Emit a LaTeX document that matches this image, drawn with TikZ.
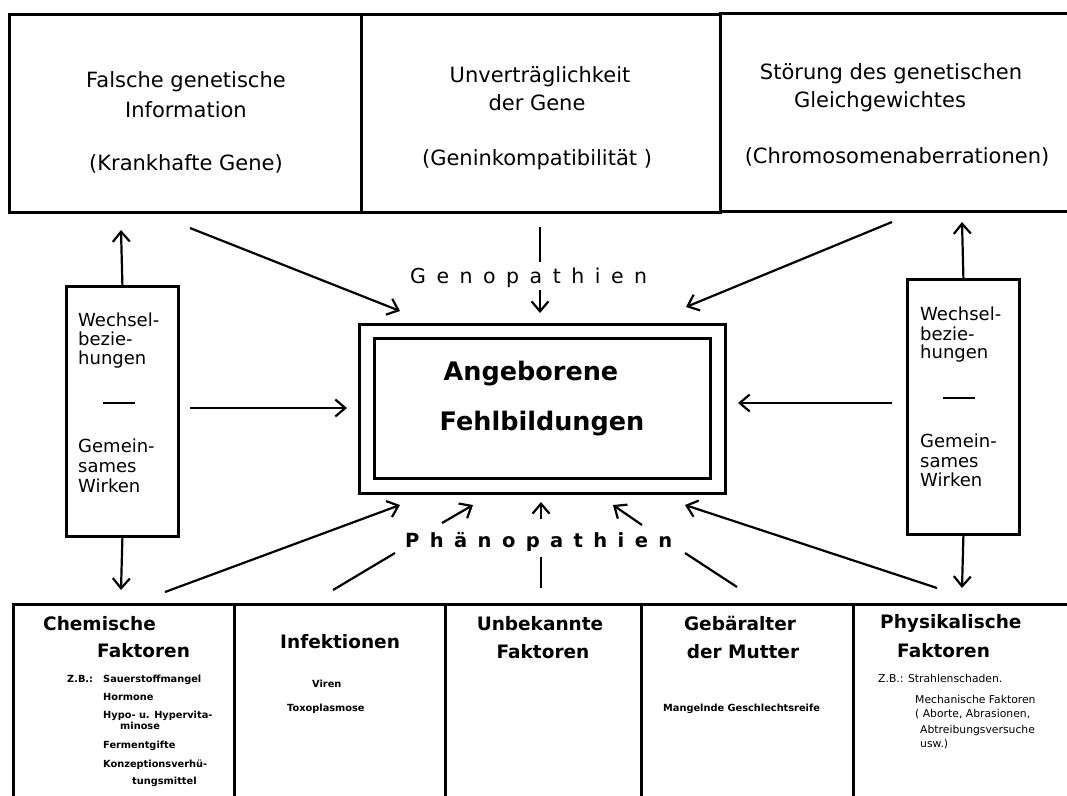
\documentclass[tikz,border=0pt]{standalone}
\usepackage{fontspec}
\setmainfont{DejaVu Sans}
\usetikzlibrary{arrows.meta}
\newcommand\lsp{\hskip 10.5pt}
\newcommand\lspb{\hskip 10.4pt}
\tikzset{
 box/.style={draw, line width=2.8pt, inner sep=0pt, anchor=north west},
 arr/.style={line width=2.2pt, -{Straight Barb[length=10pt,width=17pt]}},
 ln/.style={line width=2.2pt},
 toptxt/.style={anchor=base, inner sep=0pt, font=\fontsize{21}{24}\selectfont},
 sidetxt/.style={anchor=base west, inner sep=0pt, font=\fontsize{18}{20}\selectfont},
 ctxt/.style={anchor=base, inner sep=0pt, font=\fontsize{25.5}{30}\selectfont\bfseries},
 btitle/.style={anchor=base west, inner sep=0pt, font=\fontsize{18.5}{22}\selectfont\bfseries},
 btitlec/.style={anchor=base, inner sep=0pt, font=\fontsize{18.5}{22}\selectfont\bfseries},
 bsmall/.style={anchor=base west, inner sep=0pt, font=\fontsize{9.8}{11}\selectfont\bfseries},
 psmall/.style={anchor=base west, inner sep=0pt, font=\fontsize{10.8}{12}\selectfont},
 patho/.style={anchor=base west, inner sep=0pt, font=\fontsize{20.5}{24}\selectfont},
}
\begin{document}
\begin{tikzpicture}[x=1pt,y=-1pt]
\useasboundingbox (0,0) rectangle (1067,795);
\clip (0,0) rectangle (1067,795);
% top boxes
\node[box, minimum width=352pt, minimum height=198pt] (top1) at (8,13) {};
\node[box, minimum width=359pt, minimum height=198pt] (top2) at (360,13) {};
\node[box, minimum width=370pt, minimum height=198pt] (top3) at (719,12) {};
\node[toptxt] (t1a) at (186,87) {Falsche genetische};
\node[toptxt] (t1b) at (186,117) {Information};
\node[toptxt] (t1c) at (186,170) {(Krankhafte Gene)};
\node[toptxt] (t2a) at (540,82) {Unverträglichkeit};
\node[toptxt] (t2b) at (537,110) {der Gene};
\node[toptxt] (t2c) at (537,165) {(Geninkompatibilität )};
\node[toptxt] (t3a) at (891,79) {Störung des genetischen};
\node[toptxt] (t3b) at (880,107) {Gleichgewichtes};
\node[toptxt] (t3c) at (897,163) {(Chromosomenaberrationen)};
% centre double box
\node[box, minimum width=366pt, minimum height=169pt] (outer) at (358,323) {};
\node[box, minimum width=336pt, minimum height=140pt] (inner) at (373,337) {};
\node[ctxt] (c1) at (531,380) {Angeborene};
\node[ctxt] (c2) at (542,430) {Fehlbildungen};
% side boxes
\node[box, minimum width=112pt, minimum height=250pt] (lbox) at (65,285) {};
\node[sidetxt] (l1) at (78,326) {Wechsel-};
\node[sidetxt] (l2) at (78,345) {bezie-};
\node[sidetxt] (l3) at (78,364) {hungen};
\node[sidetxt] (l4) at (78,452) {Gemein-};
\node[sidetxt] (l5) at (78,472) {sames};
\node[sidetxt] (l6) at (78,492) {Wirken};
\coordinate (ld1) at (103,403); \coordinate (ld2) at (135,403);
\draw[ln] (ld1) -- (ld2);
\node[box, minimum width=112pt, minimum height=255pt] (rbox) at (906,278) {};
\node[sidetxt] (r1) at (920,320) {Wechsel-};
\node[sidetxt] (r2) at (920,340) {bezie-};
\node[sidetxt] (r3) at (920,358) {hungen};
\node[sidetxt] (r4) at (920,447) {Gemein-};
\node[sidetxt] (r5) at (920,467) {sames};
\node[sidetxt] (r6) at (920,486) {Wirken};
\coordinate (rd1) at (943,398); \coordinate (rd2) at (975,398);
\draw[ln] (rd1) -- (rd2);
% bottom boxes
\node[box, minimum width=221pt, minimum height=210pt] (bot1) at (12,603) {};
\node[box, minimum width=211pt, minimum height=210pt] (bot2) at (233,603) {};
\node[box, minimum width=196pt, minimum height=210pt] (bot3) at (444,603) {};
\node[box, minimum width=212pt, minimum height=210pt] (bot4) at (640,603) {};
\node[box, minimum width=240pt, minimum height=210pt] (bot5) at (852,603) {};
% bottom texts
\node[btitle] (b1a) at (43,630) {Chemische};
\node[btitle] (b1b) at (97,657) {Faktoren};
\node[bsmall] (b1z) at (67,682) {Z.B.:};
\node[bsmall] (b1c) at (103,682) {Sauerstoffmangel};
\node[bsmall] (b1d) at (103,700) {Hormone};
\node[bsmall] (b1e) at (103,718) {Hypo- u. Hypervita-};
\node[bsmall] (b1f) at (120,729) {minose};
\node[bsmall] (b1g) at (103,748) {Fermentgifte};
\node[bsmall] (b1h) at (103,767) {Konzeptionsverhü-};
\node[bsmall] (b1i) at (132,784) {tungsmittel};
\node[btitle] (b2a) at (280,648) {Infektionen};
\node[bsmall] (b2b) at (312,687) {Viren};
\node[bsmall] (b2c) at (287,711) {Toxoplasmose};
\node[btitlec] (b3a) at (540,630) {Unbekannte};
\node[btitlec] (b3b) at (543,658) {Faktoren};
\node[btitlec] (b4a) at (740,630) {Gebäralter};
\node[btitlec] (b4b) at (743,658) {der Mutter};
\node[bsmall] (b4c) at (663,711) {Mangelnde Geschlechtsreife};
\node[btitle] (b5a) at (880,628) {Physikalische};
\node[btitle] (b5b) at (897,657) {Faktoren};
\node[psmall] (b5c) at (878,682) {Z.B.: Strahlenschaden.};
\node[psmall] (b5d) at (915,703) {Mechanische Faktoren};
\node[psmall] (b5e) at (915,717) {( Aborte, Abrasionen,};
\node[psmall] (b5f) at (920,733) {Abtreibungsversuche};
\node[psmall] (b5g) at (920,747) {usw.)};
% labels
\node[patho] (geno) at (410,283) {G\lsp e\lsp n\lsp o\lsp p\lsp a\lsp t\lsp h\lsp i\lsp e\lsp n};
\node[patho, font=\fontsize{19.5}{24}\selectfont\bfseries] (pheno) at (405,547) {P\lspb h\lspb ä\lspb n\lspb o\lspb p\lspb a\lspb t\lspb h\lspb i\lspb e\lspb n};
% connector coordinates
\coordinate (lup) at (121,230);
\coordinate (ldn) at (121,590);
\coordinate (rup) at (962,222);
\coordinate (rdn) at (962,588);
\coordinate (lh0) at (190,408); \coordinate (lh1) at (347,408);
\coordinate (rh0) at (892,403); \coordinate (rh1) at (738,403);
\coordinate (tl0) at (190,228); \coordinate (tl1) at (400,311);
\coordinate (tr0) at (892,222); \coordinate (tr1) at (686,307);
\coordinate (g0) at (540,227); \coordinate (g1) at (540,262);
\coordinate (g2) at (540,290); \coordinate (g3) at (540,313);
\coordinate (p10) at (165,592); \coordinate (p11) at (400,505);
\coordinate (p20) at (333,590); \coordinate (p21) at (395,553);
\coordinate (p22) at (442,523); \coordinate (p23) at (473,505);
\coordinate (p30) at (541,588); \coordinate (p31) at (541,557);
\coordinate (p32) at (541,519); \coordinate (p33) at (541,502);
\coordinate (p40) at (737,587); \coordinate (p41) at (685,553);
\coordinate (p42) at (642,525); \coordinate (p43) at (613,505);
\coordinate (p50) at (937,588); \coordinate (p51) at (685,505);
% connectors
\draw[arr] (lbox.north) -- (lup);
\draw[arr] (lbox.south) -- (ldn);
\draw[arr] (rbox.north) -- (rup);
\draw[arr] (rbox.south) -- (rdn);
\draw[arr] (lh0) -- (lh1);
\draw[arr] (rh0) -- (rh1);
\draw[arr] (tl0) -- (tl1);
\draw[arr] (tr0) -- (tr1);
\draw[ln] (g0) -- (g1);
\draw[arr] (g2) -- (g3);
\draw[arr] (p10) -- (p11);
\draw[ln] (p20) -- (p21);
\draw[arr] (p22) -- (p23);
\draw[ln] (p30) -- (p31);
\draw[arr] (p32) -- (p33);
\draw[ln] (p40) -- (p41);
\draw[arr] (p42) -- (p43);
\draw[arr] (p50) -- (p51);
\end{tikzpicture}
\end{document}
